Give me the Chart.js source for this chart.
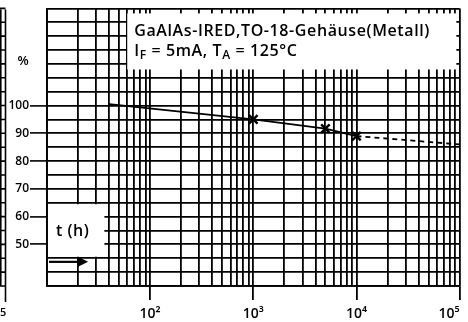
<!DOCTYPE html>
<html>
<head>
<meta charset="utf-8">
<script src="https://cdn.jsdelivr.net/npm/chart.js@4"></script>
<style>
  body { margin: 0; background: #fff; }
  #wrap { width: 468px; height: 322px; }
</style>
</head>
<body>
<div id="wrap"><canvas id="lifeChart"></canvas></div>
<script>
// gemessene Werte: relative Strahlungsleistung (%) über Betriebszeit t (h)
const hours = [40, 1000, 5000, 10000];
const power = [100.5, 95, 91.7, 89];
// extrapolierter Verlauf (gestrichelt)
const extraHours = [10000, 100000];
const extraPower = [89, 86];

// Achsen
const decadeLabels = { 100: '10²', 1000: '10³', 10000: '10⁴', 100000: '10⁵' };
const yLabels = [50, 60, 70, 80, 90, 100];
const xMin = 10, xMax = 100000;
const yMin = 35, yMax = 135;

const FONT = "'Open Sans', 'DejaVu Sans', sans-serif";

// Gitterlinien 1..9 pro Dekade
const gridHours = [];
for (let d = xMin; d < xMax; d *= 10) {
  for (let m = 1; m < 10; m++) gridHours.push(m * d);
}
gridHours.push(xMax);

const decor = {
  id: 'decor',
  beforeDatasetsDraw(chart) {
    const { ctx, chartArea: a, scales: { x, y } } = chart;
    ctx.save();
    ctx.fillStyle = '#fff';

    // Titelkasten oben rechts
    const tx0 = x.getPixelForValue(60), tx1 = x.getPixelForValue(93000);
    const ty0 = y.getPixelForValue(133.2), ty1 = y.getPixelForValue(113);
    ctx.fillRect(tx0, ty0, tx1 - tx0, ty1 - ty0);

    // Kasten für t (h)
    const bx1 = x.getPixelForValue(36);
    const by0 = y.getPixelForValue(65) + 1.5, by1 = y.getPixelForValue(45) - 1.5;
    ctx.fillRect(a.left + 1, by0, bx1 - a.left - 1, by1 - by0);

    ctx.fillStyle = '#000';
    ctx.textBaseline = 'alphabetic';
    ctx.textAlign = 'left';
    ctx.letterSpacing = '0.6px';
    ctx.font = '600 16px ' + FONT;
    ctx.fillText('GaAlAs-IRED,TO-18-Gehäuse(Metall)', tx0 + 7, ty0 + 23);

    // zweite Zeile mit Indizes
    let cx = tx0 + 7;
    const by = ty0 + 43;
    const parts = [['I', 0], ['F', 1], [' = 5mA, T', 0], ['A', 1], [' = 125°C', 0]];
    parts.forEach(([t, sub]) => {
      ctx.font = (sub ? '600 12px ' : '600 16px ') + FONT;
      ctx.fillText(t, cx, by + (sub ? 3 : 0));
      cx += ctx.measureText(t).width;
    });

    // t (h) mit Pfeil
    ctx.letterSpacing = '0.5px';
    ctx.font = '600 16px ' + FONT;
    ctx.fillText('t (h)', a.left + 9, (by0 + by1) / 2 + 6);
    ctx.letterSpacing = '0px';
    const ay = y.getPixelForValue(43.7);
    const ax1 = x.getPixelForValue(25);
    ctx.lineWidth = 2.2;
    ctx.beginPath();
    ctx.moveTo(a.left + 2, ay);
    ctx.lineTo(ax1 - 8, ay);
    ctx.stroke();
    ctx.beginPath();
    ctx.moveTo(ax1 - 10, ay - 5);
    ctx.lineTo(ax1, ay);
    ctx.lineTo(ax1 - 10, ay + 5);
    ctx.closePath();
    ctx.fill();
    ctx.restore();
  },
  afterDraw(chart) {
    const { ctx, scales: { y } } = chart;
    ctx.save();
    ctx.fillStyle = '#000';
    ctx.font = '600 13px ' + FONT;
    ctx.textAlign = 'center';
    ctx.textBaseline = 'middle';
    ctx.fillText('%', 23, 61);

    // Rand des Nachbardiagramms links
    ctx.strokeStyle = '#000';
    ctx.lineWidth = 1.6;
    ctx.beginPath();
    ctx.moveTo(5.5, y.top + 1);
    ctx.lineTo(5.5, y.bottom + 16);
    ctx.moveTo(0.8, y.top + 1);
    ctx.lineTo(0.8, y.bottom);
    for (let v = yMin; v <= yMax; v += 5) {
      const py = y.getPixelForValue(v);
      ctx.moveTo(0, py);
      ctx.lineTo(5.5, py);
    }
    ctx.stroke();
    ctx.font = '600 11px ' + FONT;
    ctx.textAlign = 'left';
    ctx.fillText('5', 0, 313);
    ctx.restore();
  }
};

const ctx = document.getElementById('lifeChart').getContext('2d');
const lifeChart = new Chart(ctx, {
  type: 'line',
  data: {
    datasets: [{
      data: hours.map((h, i) => ({ x: h, y: power[i] })),
      borderColor: '#000',
      borderWidth: 1.8,
      pointStyle: 'crossRot',
      pointRadius: c => (c.dataIndex === 0 ? 0 : 6),
      pointBorderWidth: 2.4,
      pointBorderColor: '#000',
      fill: false,
      tension: 0
    }, {
      data: extraHours.map((h, i) => ({ x: h, y: extraPower[i] })),
      borderColor: '#000',
      borderWidth: 1.8,
      borderDash: [5, 4],
      pointRadius: 0,
      fill: false,
      tension: 0
    }]
  },
  options: {
    responsive: true,
    maintainAspectRatio: false,
    animation: false,
    layout: { padding: { left: 0, top: 7, right: 7, bottom: 0 } },
    plugins: { legend: { display: false }, tooltip: { enabled: false } },
    scales: {
      x: {
        type: 'logarithmic',
        min: xMin,
        max: xMax,
        afterBuildTicks: s => { s.ticks = gridHours.map(v => ({ value: v })); },
        afterFit: s => { s.height = 36; s.paddingLeft = 0; s.paddingRight = 0; },
        border: { color: '#000', width: 1.8 },
        grid: {
          color: '#000',
          lineWidth: 1.8,
          tickLength: 14,
          tickWidth: 1.8,
          tickColor: c => (c.tick && decadeLabels[c.tick.value]) ? '#000' : 'rgba(0,0,0,0)'
        },
        ticks: {
          autoSkip: false,
          maxRotation: 0,
          align: 'inner',
          padding: 6,
          color: '#000',
          font: { family: FONT, size: 14, weight: '600' },
          callback: v => decadeLabels[v] || ''
        }
      },
      y: {
        type: 'linear',
        min: yMin,
        max: yMax,
        afterFit: s => { s.width = 47; s.paddingTop = 0; s.paddingBottom = 0; },
        border: { color: '#000', width: 1.8 },
        grid: {
          color: '#000',
          lineWidth: 1.8,
          tickLength: 17,
          tickWidth: 1.6,
          tickColor: c => (c.tick && yLabels.includes(c.tick.value)) ? '#000' : 'rgba(0,0,0,0)'
        },
        ticks: {
          stepSize: 5,
          autoSkip: false,
          padding: 1,
          color: '#000',
          font: { family: FONT, size: 12, weight: '600' },
          callback: v => (yLabels.includes(v) ? String(v) : '')
        }
      }
    }
  },
  plugins: [decor]
});
</script>
</body>
</html>
